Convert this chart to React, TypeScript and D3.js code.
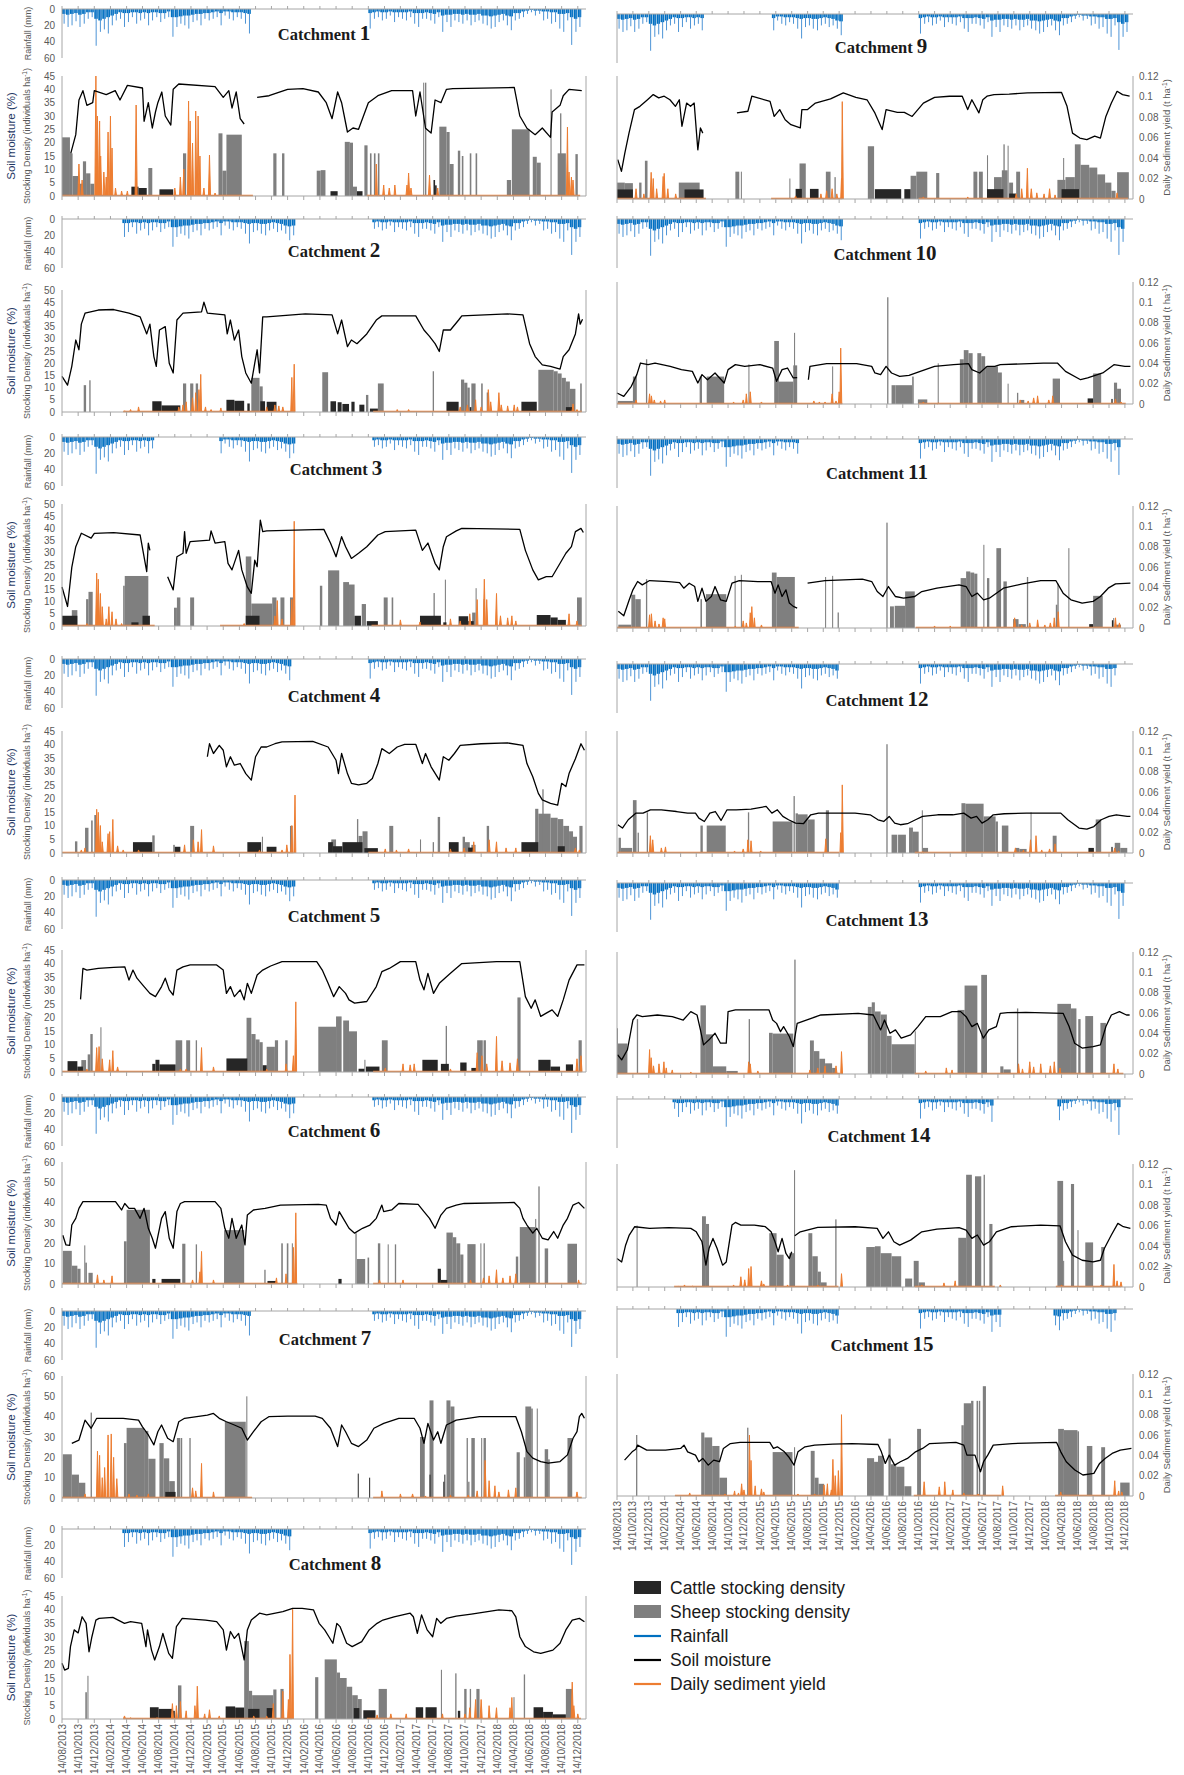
import React from "react";
import * as d3 from "d3";

type Pt = [number, number | null];
type Bar = [number, number, number];
type Spike = [number, number];
type Win = [number, number];

// time axis: values are given as months after 14/08/2013
const T0 = new Date(2013, 7, 14);
const T1 = new Date(2019, 0, 14);
const monthDate = (m: number) => d3.timeDay.offset(T0, Math.round(m * 30.44));
const tickMonths = d3.range(0, 65, 2);
const fmtDate = d3.timeFormat("%d/%m/%Y");

const rainTicks = [0, 20, 40, 60];
const sedTicks = [0, 0.02, 0.04, 0.06, 0.08, 0.1, 0.12];

// rainfall (mm), half-month bins: highest daily value and typical daily depth
const rainPeak = [
  18, 22, 20, 15, 22, 18, 12, 10, 45, 28, 25, 30, 20, 14, 12, 22, 16, 10, 18, 14,
  12, 20, 14, 10, 16, 12, 10, 34, 22, 18, 20, 24, 16, 14, 20, 12, 14, 12, 10, 20,
  8, 12, 14, 10, 12, 18, 30, 16, 14, 18, 20, 14, 12, 16, 14, 18, 26, 20, 10, 0,
  0, 0, 0, 0, 0, 0, 0, 0, 0, 0, 0, 0, 0, 0, 0, 0,
  24, 12, 10, 14, 12, 8, 16, 10, 12, 14, 10, 18, 22, 12, 12, 14, 18, 10, 28, 16,
  22, 14, 16, 18, 14, 20, 16, 14, 18, 20, 24, 22, 16, 14, 20, 26, 14, 12, 10, 6,
  4, 8, 6, 14, 12, 18, 16, 24, 28, 14, 44, 28, 22, 18,
];
const rainBase = [
  6, 7, 6, 5, 7, 6, 4, 4, 12, 14, 12, 10, 8, 6, 4, 5, 5, 4, 4, 5,
  4, 5, 4, 4, 5, 5, 3, 10, 10, 9, 8, 8, 7, 6, 6, 5, 5, 4, 3, 5,
  3, 3, 4, 4, 4, 5, 6, 5, 5, 6, 6, 5, 4, 5, 6, 8, 9, 8, 3, 0,
  0, 0, 0, 0, 0, 0, 0, 0, 0, 0, 0, 0, 0, 0, 0, 0,
  5, 4, 3, 4, 4, 3, 4, 4, 4, 4, 3, 5, 5, 5, 4, 5, 6, 4, 8, 7,
  7, 6, 6, 7, 6, 7, 7, 6, 8, 8, 9, 8, 7, 6, 8, 9, 5, 5, 3, 2,
  1, 2, 2, 3, 3, 4, 4, 6, 6, 5, 10, 12, 10, 8,
];

// periods with records (months)
const rw1: Win[] = [[0, 23.7], [37.8, 64.3]];
const rw2: Win[] = [[7.6, 28.9], [38.6, 64.5]];
const rw3: Win[] = [[0, 11.5], [19.6, 28.9], [38.4, 64.5]];
const rw4: Win[] = [[0, 28.7], [38, 64.3]];
const rw5: Win[] = [[0, 29], [38.6, 64.5]];
const rw6: Win[] = [[0, 29.2], [38.6, 64.5]];
const rw7: Win[] = [[0, 23.6], [38.6, 64.5]];
const rw8: Win[] = [[7.6, 28.5], [37.8, 64.4]];
const rw9: Win[] = [[0, 11.2], [19.4, 28.4], [38, 64.4]];
const rw10: Win[] = [[0, 28.4], [38, 64.1]];
const rw11: Win[] = [[0, 22.9], [37.6, 63.3]];
const rw12: Win[] = [[0, 28], [37.5, 63]];
const rw13: Win[] = [[0, 28.1], [37.5, 63.8]];
const rw14: Win[] = [[7.2, 27.9], [37.5, 47.6], [55.3, 63.5]];
const rw15: Win[] = [[7.3, 28], [37.4, 48.4], [55.2, 63]];

// soil moisture [month, %]
const sm1: Pt[] = [[1.1,16],[1.7,23],[2.1,36],[2.6,39.5],[3.1,34],[3.8,35],[4.0,39.5],[5.5,38],[6.6,39.5],[7.2,36],[8.1,41.5],[10.0,40.5],[10.2,28],[10.7,35],[11.2,25.5],[11.6,31.5],[11.9,35],[12.4,39],[12.8,30],[13.5,26.6],[13.8,40],[14.5,42],[19.0,41],[20.0,37],[20.7,39.5],[21.1,33],[21.6,39],[22.1,29],[22.6,27],[23.4,null],[24.2,37],[25.7,37.6],[28.0,40],[29.9,40.3],[31.8,39],[32.8,35],[33.5,29],[34.2,39],[34.7,35],[35.4,24],[36.1,25.5],[36.8,25],[38.0,35],[39.2,37.6],[40.9,39.5],[43.5,39.5],[43.9,30],[44.4,39],[45.1,25.4],[45.8,23.6],[46.3,36],[47.0,35],[47.7,40],[48.5,40.3],[56.1,40.7],[56.8,30],[57.7,25.4],[58.7,23],[59.6,25.5],[60.6,22],[60.8,31.5],[61.8,34],[62.2,37.6],[62.9,40],[64.5,39.5]];
const sm2: Pt[] = [[0,14.6],[0.7,11],[1.2,18.7],[1.7,29.5],[2.1,25.5],[2.4,36],[2.85,40.5],[4.5,41.8],[6.4,42],[8.3,40.5],[9.7,39],[10.5,32],[10.9,36],[11.4,22.7],[11.7,18.7],[12.1,33.6],[12.8,35],[13.3,20],[13.8,16],[14.25,37.7],[15.0,40.5],[17.3,41],[17.6,45],[18.05,40.5],[20.2,39.8],[20.5,32],[20.9,37.7],[21.4,29.5],[21.9,33.6],[22.3,22.7],[22.8,16],[23.5,11.8],[23.9,20],[24.2,25.5],[24.5,16],[24.9,39],[25.4,39],[30.2,40.2],[33.5,39.8],[34.2,32],[34.7,37.7],[35.4,26.8],[35.9,29.5],[36.6,28],[37.8,32],[39.0,37.7],[39.7,39.4],[43.9,39.4],[44.9,33.6],[45.6,31],[46.3,28],[46.8,24.8],[47.3,33.6],[48.2,33.6],[49.2,37.7],[49.6,39.4],[55.3,40.2],[57.2,39.8],[58.0,28],[58.7,22.7],[59.6,19.3],[60.6,18.7],[61.8,17.6],[62.2,22.7],[62.9,25.5],[63.7,32],[64.1,40.2],[64.3,36],[64.6,38]];
const sm3: Pt[] = [[0,16],[0.7,8],[1.2,24],[1.7,32.5],[2.4,38],[3.6,36],[4.0,38],[6.4,38.3],[9.7,37.3],[10.5,22.3],[10.7,34],[10.9,31],[11.0,null],[13.1,20.2],[13.8,14.8],[14.25,28.4],[15.0,29.8],[15.2,38.7],[15.4,29.8],[15.9,34.6],[18.3,35.2],[18.5,39],[19.0,34],[20.2,34.6],[20.6,25.7],[21.1,23],[21.9,31],[22.3,23],[23.0,16],[23.5,13.4],[23.9,27],[24.2,24.3],[24.6,43.4],[24.9,38.7],[25.4,39],[32.5,39.6],[33.3,34],[34.0,28.4],[34.7,36.6],[35.2,32.5],[35.9,27.7],[36.8,29.8],[37.8,32.5],[39.2,37.3],[40.1,38.7],[43.9,39.3],[44.7,31],[45.4,34],[46.3,25.7],[46.8,23],[47.3,32.5],[47.7,36.6],[48.9,39],[49.6,40],[56.8,39.6],[57.5,31],[58.4,23],[59.1,18.9],[60.1,20.2],[60.8,20.2],[61.8,25.7],[62.5,29.8],[63.2,32.5],[63.7,38.7],[64.4,40],[64.7,38.3]];
const sm4: Pt[] = [[18.05,35.5],[18.3,40.3],[18.8,36.7],[19.5,39.7],[20.0,37.9],[20.4,31.8],[20.9,35.5],[21.4,32.4],[22.1,33],[22.8,29.3],[23.5,26.9],[24.0,35.5],[24.7,39.1],[25.4,39.1],[26.4,40.3],[27.3,41],[31.1,41.2],[33.0,39.1],[34.0,34.2],[34.3,29.3],[34.7,36.7],[35.4,29.3],[35.9,25.7],[36.8,25.1],[37.8,25.7],[38.5,27.5],[39.2,33],[39.7,38.5],[40.6,36.7],[41.6,39.1],[42.5,40.1],[43.9,40.1],[44.7,33],[45.1,36.7],[45.8,31.8],[46.8,26.9],[47.3,35.5],[48.0,34.2],[48.7,36.7],[49.4,39.7],[52.0,40.3],[55.3,40.6],[57.2,39.7],[57.7,33],[58.4,28.1],[59.1,22],[59.6,19.6],[60.6,18.3],[61.5,17.7],[62.0,25.7],[62.5,24.5],[62.9,29.3],[63.7,34.8],[64.4,40.3],[64.8,37.9]];
const sm5: Pt[] = [[2.3,26.8],[2.6,38.2],[3.1,37.6],[4.5,38.2],[6.4,38.6],[7.8,38.8],[8.3,33.9],[8.8,37.6],[9.3,34.6],[10.2,31.5],[10.9,29],[11.6,27.8],[12.35,31.5],[12.8,34.6],[13.3,30.3],[13.8,28.4],[14.25,37.6],[15.0,38.8],[15.9,39.5],[19.2,39.5],[20.0,37.6],[20.4,29],[20.9,31.5],[21.4,27.8],[22.1,30.3],[22.6,26.6],[23.0,32.7],[23.5,29],[24.2,35.8],[24.9,37.6],[25.9,39.1],[27.3,40.7],[31.6,40.7],[32.3,37.6],[33.0,32.7],[33.7,27.8],[34.4,31.5],[35.2,29],[35.6,26.6],[36.3,25.4],[37.8,26],[39.0,31.5],[39.7,37],[40.6,38.2],[42.0,40.7],[43.9,40.7],[44.4,33.9],[44.9,30.3],[45.4,36.4],[46.1,29],[46.8,32.7],[47.5,34.6],[48.2,36.4],[49.6,40],[53.9,40.7],[56.8,40.7],[57.5,27.8],[58.2,23.5],[58.7,26.6],[59.4,20.5],[60.1,21.7],[60.8,22.9],[61.5,20.5],[62.2,26.6],[62.9,33.9],[63.9,39.5],[64.8,39.5]];
const sm6: Pt[] = [[0.1,24],[0.5,19.2],[0.95,19],[1.2,29],[1.7,32.3],[2.1,37.2],[2.6,40.5],[4.3,40.5],[6.65,40.5],[7.4,36.4],[7.8,39.6],[8.3,37.2],[9.0,37.2],[9.7,32.3],[10.2,37.2],[10.7,27.4],[11.2,22.5],[11.6,17.6],[12.35,32.3],[12.8,35.6],[13.3,22.5],[13.8,17.6],[14.25,35.6],[14.7,39.6],[15.2,40.5],[19.0,40.5],[19.7,37.2],[20.2,27.4],[20.7,22.5],[21.1,32.3],[21.6,22.5],[22.3,29],[22.7,19.2],[23.0,33.9],[23.75,36.4],[25.2,37.2],[27.1,38.8],[31.8,39.2],[32.8,38.8],[33.3,32.3],[34.0,29],[34.4,35.6],[34.9,32.3],[35.6,27.4],[36.3,25],[37.3,27.4],[38.2,29],[39.0,32.3],[39.7,38.8],[39.9,35.6],[40.9,36.4],[41.8,39.6],[44.2,39.2],[44.9,35.6],[45.6,32.3],[46.3,27.4],[47.0,33.9],[47.7,37.2],[48.9,38.8],[49.9,39.6],[56.1,40.1],[56.8,37.2],[57.2,32.3],[57.7,29],[58.4,25],[58.9,27.4],[59.6,22.5],[60.3,21.7],[61.0,25.8],[61.5,22.5],[62.2,29],[62.7,32.3],[63.4,38.8],[64.1,40.1],[64.8,37.2]];
const sm7: Pt[] = [[1.2,26.9],[2.1,28.5],[2.85,38.3],[3.6,34.3],[4.3,39.2],[7.6,39.2],[9.5,38.3],[10.0,35],[10.7,31],[11.4,26.1],[11.9,32.6],[12.35,35.9],[13.1,29.4],[13.8,27.7],[14.5,37.5],[15.2,39.2],[18.05,40.8],[18.8,41.6],[19.5,39.2],[20.4,37.5],[21.4,35.9],[22.3,34.3],[23.0,28.5],[23.75,32.6],[24.7,37.5],[25.65,40],[28.0,40.3],[31.4,40.3],[32.3,39.2],[33.3,34.3],[34.2,25.3],[34.7,35.9],[35.2,32.6],[35.9,26.9],[36.8,25.3],[37.8,28.5],[38.7,34.3],[39.9,36.7],[41.8,39.2],[43.7,39.2],[44.4,34.3],[44.9,26.9],[45.4,36.7],[46.1,28.5],[46.6,32.6],[47.0,26.9],[47.7,35.9],[48.9,38.3],[51.8,40],[56.3,40],[57.0,32.6],[57.7,22.8],[58.4,19.6],[59.4,17.9],[60.3,17.1],[61.8,17.9],[62.7,21.2],[63.4,29.4],[63.9,32.6],[64.2,40],[64.5,41.6],[64.8,39.2]];
const sm8: Pt[] = [[0,20.4],[0.33,17.9],[0.8,18.5],[1.05,26.5],[1.5,32.6],[2.0,31.5],[2.5,37.4],[3.0,35],[3.35,24.6],[3.7,30.1],[4.2,36.2],[4.6,36.8],[6.3,37.2],[7.75,35],[8.5,35.6],[9.9,35],[10.4,26.5],[10.6,32.6],[11.1,25.2],[11.5,21.6],[12.1,26.5],[12.5,31.3],[13.25,24],[13.7,22.2],[14.2,33.8],[14.9,36.8],[17.8,36.2],[19.2,35.6],[20.0,32.6],[20.4,25.2],[20.9,32],[21.4,29.5],[21.9,31.3],[22.6,21.6],[23.0,32.6],[23.5,36.2],[24.5,38.7],[25.4,38.1],[27.4,39.3],[28.6,40.5],[29.8,40.5],[31.2,39.9],[31.9,35],[32.6,32.6],[33.1,30.1],[33.6,27.7],[34.1,35],[34.5,33.8],[35.3,27.7],[36.0,26.5],[37.2,28.3],[38.1,32.6],[39.1,35],[39.8,36.2],[41.2,37.4],[43.2,38.7],[43.6,37.4],[44.1,31.3],[44.6,38.1],[45.3,32.6],[46.0,30.1],[46.5,36.8],[47.0,35],[47.7,36.8],[48.9,37.6],[50.8,38.4],[54.2,39.9],[55.8,39.6],[56.3,37.4],[56.8,30.1],[57.5,26.5],[58.5,24.6],[59.4,24],[60.9,25.2],[61.8,27.7],[62.5,32.6],[63.3,36.2],[64.2,36.8],[64.8,35.6]];
const sm9: Pt[] = [[0.1,14.4],[0.56,10.1],[1.0,16.8],[1.5,24.1],[2.2,32.7],[2.9,33.9],[3.85,36.3],[4.55,38.2],[5.26,37],[5.96,37.6],[6.67,36.3],[7.37,33.9],[7.84,36.3],[8.17,26.6],[8.78,35.1],[9.25,33.9],[9.72,35.1],[10.2,18],[10.5,26],[10.8,24.1],[11.0,null],[15.1,31.5],[16.5,32.1],[17.0,37.6],[19.3,35.7],[19.8,30.2],[20.5,32.7],[21.2,29],[21.9,27.2],[23.1,26],[23.3,32.7],[24.0,32.7],[25.0,35.1],[26.9,36.6],[28.5,38.8],[30.1,37.2],[31.5,36.3],[32.5,31.5],[33.4,25.4],[33.9,32.7],[35.3,31.7],[36.2,31.7],[37.2,30.2],[38.6,35.1],[40.0,37.2],[41.9,37.6],[43.5,37.6],[44.2,32.7],[44.7,36.3],[45.6,31.5],[46.1,36.3],[46.6,37.6],[47.5,38.2],[49.4,38.4],[51.7,38.8],[56.0,39],[56.7,33.9],[57.4,24.1],[58.3,22.3],[59.2,21.7],[60.2,23],[60.9,22.3],[61.6,30.2],[62.3,35.1],[63.0,39.4],[63.7,38.2],[64.6,37.6]];
const sm10: Pt[] = [[0,10.8],[0.85,7.5],[1.8,17.4],[2.5,28.9],[2.95,40.3],[3.9,38.7],[4.8,40.3],[6.7,37],[8.1,33.8],[9.5,32.1],[10.2,20.7],[10.7,28.9],[11.4,23.9],[12.35,30.5],[13.5,20.7],[14.0,33.8],[14.9,38.7],[16.1,37],[18.0,38.7],[19.6,35.4],[20.1,22.3],[20.8,33.8],[21.5,35.4],[22.2,25.6],[22.7,26],[23.0,null],[24.1,23.9],[24.3,37],[26.4,39.7],[30.2,39.7],[32.1,37],[32.5,30.5],[33.2,28.9],[33.9,37],[34.6,30.5],[35.6,27.2],[36.8,28.2],[38.2,32.1],[40.0,37],[42.4,38.7],[44.3,39.7],[44.7,33.8],[45.7,30.5],[46.6,37],[47.6,37],[48.3,38.7],[53.7,40.3],[55.5,40.3],[56.5,32.1],[58.4,23.9],[59.3,25.6],[61.2,30.5],[62.6,38.7],[64.0,37],[64.7,37]];
const sm11: Pt[] = [[0.15,15],[0.85,11],[1.55,25.4],[2.0,34.4],[2.6,41.9],[3.2,38.9],[4.1,42.8],[6.5,41.9],[7.9,41],[8.4,35.9],[9.1,40.4],[9.8,37.4],[10.2,24],[10.7,35.9],[11.2,24],[11.9,28.4],[12.35,37.4],[13.05,25.4],[13.75,24],[14.5,40.4],[15.4,42.8],[17.75,41.9],[19.4,41.9],[19.9,31.4],[20.3,38.9],[20.8,28.4],[21.3,34.4],[21.7,22.5],[22.2,19.5],[22.7,18],[23.0,null],[24.0,40.4],[26.2,42.8],[30.9,44],[32.1,41.9],[32.8,32.9],[33.5,28.4],[34.2,37.4],[35.1,28.4],[36.1,26.9],[37.5,28.4],[38.4,32.9],[40.3,35.9],[43.1,38.9],[44.0,37.4],[44.7,28.4],[45.4,31.4],[46.2,25.4],[46.9,26.9],[47.8,31.4],[48.7,35.9],[51.1,39.8],[53.4,42.8],[55.3,42.8],[56.2,31.4],[57.2,25.4],[58.6,22.5],[60.0,24],[60.9,28.4],[61.9,35.9],[62.8,39.8],[64.7,40.4]];
const sm12: Pt[] = [[0.1,27.8],[0.7,24.5],[1.4,32.7],[2.35,39.2],[3.3,39.2],[4.2,42.5],[5.6,42.5],[7.5,40.8],[8.9,39.2],[9.9,39.2],[10.3,34.3],[11.0,31],[11.7,39.2],[12.4,40.8],[13.1,32],[13.85,42.5],[15.0,42.5],[16.9,43.1],[18.8,45.8],[19.5,39.2],[20.2,42.5],[20.9,36],[21.6,32.7],[22.5,29.4],[23.5,28.8],[24.4,37.6],[25.4,39.2],[27.2,39.2],[30.0,39.2],[31.9,37.6],[32.9,32.7],[33.6,31],[34.3,36],[35.0,29.4],[35.7,27.8],[36.6,28.8],[37.6,32.7],[38.5,36],[40.4,37.6],[42.3,37.6],[43.7,39.2],[44.6,34.3],[45.3,36],[46.0,29.4],[46.7,32.7],[47.4,37.6],[48.8,38.6],[51.6,39.2],[55.9,39.2],[56.8,32.7],[58.2,24.5],[59.2,23.5],[60.1,26],[61.0,32.7],[62.0,36],[62.9,37.6],[64.3,36],[64.7,36]];
const sm13: Pt[] = [[0.05,12.6],[0.6,9.3],[1.3,15.9],[2.0,35.4],[2.5,38.7],[3.2,37.6],[5.1,38.7],[6.95,37.6],[8.35,35.4],[9.3,40.9],[10.1,38.7],[10.5,28.9],[10.9,19.1],[11.6,22.4],[12.35,26.7],[13.05,20.2],[13.75,20.2],[14.0,40.9],[14.9,42],[19.15,42],[19.6,35.4],[20.1,33.2],[20.6,27.8],[21.0,31.1],[21.7,24.6],[22.2,18],[22.7,33.2],[23.85,35.4],[25.7,38.7],[30.4,39.8],[32.3,38.7],[33.2,28.9],[33.7,35.4],[34.4,26.7],[35.1,28.9],[35.8,23.5],[37.0,25.7],[37.9,31.1],[38.9,37.6],[40.75,37.6],[42.2,40.9],[43.3,40.9],[44.0,37.6],[44.7,31.1],[45.4,33.2],[46.15,23.5],[46.85,28.9],[47.8,31.1],[48.3,39.8],[49.2,40.2],[51.5,40.4],[56.2,39.8],[56.95,31.1],[57.65,20.2],[58.6,17],[60.0,18],[60.9,19.1],[61.6,31.1],[62.3,38.7],[63.3,40.9],[64.2,38.7],[64.6,38.7]];
const sm14: Pt[] = [[0,18.5],[0.6,16.3],[1.1,27.2],[1.55,33.8],[2.25,39.2],[4.1,38.1],[6.5,38.6],[9.3,38.1],[10.0,35.9],[10.7,29.4],[11.2,14.2],[11.6,25],[12.1,31.6],[12.6,25],[13.3,14.2],[13.75,16.3],[14.5,40.3],[14.9,42],[15.6,40.3],[17.3,40.3],[18.7,39.2],[19.4,35.9],[19.9,29.4],[20.3,22.9],[20.8,31.6],[21.3,21.8],[21.7,18.5],[22.0,22.9],[22.2,null],[22.4,33.3],[23.1,35.9],[25.3,38.8],[30.0,39.2],[32.8,38.1],[33.5,31.6],[34.2,35.9],[34.9,29.4],[35.6,27.2],[37.0,30.5],[38.4,35.9],[40.3,37.7],[43.1,38.6],[44.0,37],[44.7,31.6],[45.4,33.8],[46.2,27.2],[46.9,29.4],[47.8,35.9],[49.7,39.2],[53.4,40.3],[55.8,39.8],[56.5,29.4],[57.4,20.7],[58.6,17.4],[60.0,16.3],[60.9,17.4],[61.4,25],[62.3,33.8],[63.1,41.4],[63.8,39.2],[64.7,38.1]];
const sm15: Pt[] = [[0.95,29.4],[1.9,36.2],[2.35,38.4],[2.6,41.7],[3.75,37.6],[6.1,37.6],[8.0,39],[8.45,41.7],[8.9,36.2],[9.9,33.5],[10.3,28.1],[10.8,30.8],[11.5,25.3],[12.2,29.4],[12.9,28.1],[13.4,39],[14.3,43],[15.5,43.9],[19.25,43.9],[19.7,39],[20.2,40.3],[21.1,36.2],[21.6,32.2],[22.3,25.3],[22.8,36.2],[23.7,40.3],[24.9,41.7],[27.2,42.5],[29.6,43],[32.9,42.2],[33.3,36.2],[33.8,26.7],[34.3,33.5],[35.0,25.3],[35.7,28.1],[36.6,30.8],[37.6,36.2],[38.5,39],[39.4,43],[42.7,43.9],[43.7,41.7],[44.1,33.5],[45.1,33.5],[45.8,19.9],[46.2,28.1],[46.7,33.5],[47.4,41.7],[49.8,43],[55.4,43.9],[55.9,36.2],[56.6,28.1],[57.7,21.3],[58.7,17.2],[60.1,18.5],[60.8,26.7],[61.5,30.8],[62.4,34.9],[63.4,37.6],[64.8,39]];

// sheep stocking density [from month, to month, individuals/ha]
const sheep1: Bar[] = [[0,1,22],[1,1.3,16],[1.3,2.0,7.5],[2.0,2.6,4.6],[2.6,3.0,13],[3.0,3.5,8.5],[3.5,4.0,4.6],[10.7,11.2,10.5],[15.0,15.4,16],[19.4,19.9,23.5],[19.9,20.4,9.5],[20.4,22.3,23],[26.2,26.6,16],[27.3,27.6,16],[31.6,32.1,9.5],[32.1,32.7,9.7],[35.1,35.7,20.3],[35.7,36.1,20],[36.1,36.6,3.5],[37.5,37.9,19],[38.2,38.4,16],[38.7,38.9,16],[39.2,39.4,16],[44.8,44.95,42.5],[45.05,45.2,42.5],[46.8,47.7,26],[47.7,48.1,24],[48.1,48.6,12],[49.1,49.4,17],[49.6,49.8,15],[50.6,50.8,16],[51.3,51.5,16],[55.2,55.7,6],[55.8,58.0,25],[58.4,58.9,14.7],[58.9,59.4,12.5],[60.6,60.75,40],[61.5,62.5,16],[61.8,61.95,31],[63.7,64.0,15.7]];
const sheep2: Bar[] = [[2.7,3.0,11],[3.4,3.55,13],[15.0,15.4,11.7],[15.9,16.3,11.7],[16.6,16.9,11.7],[23.5,24.5,14],[24.5,24.9,10.5],[32.3,33.0,16.3],[37.7,38.0,7],[39.2,39.9,11.7],[46.0,46.15,16.7],[49.5,49.9,13.3],[49.9,50.3,12],[50.3,50.6,10],[50.8,51.3,11.7],[52.0,52.2,11.7],[52.7,53.0,8],[59.1,61.0,17.3],[61.0,61.5,16.7],[61.5,62.0,15.8],[62.0,62.5,14],[62.5,63.0,12.5],[63.0,63.7,9.5],[64.3,64.5,11.7]];
const sheep3: Bar[] = [[1.2,1.9,6.5],[3.0,3.3,11],[3.3,3.8,14],[7.6,7.8,16.5],[7.8,10.7,20.5],[13.9,14.25,7.5],[14.25,14.7,11.7],[15.9,16.4,11.7],[22.8,23.5,28.5],[23.5,26.1,9.2],[26.1,26.6,11.7],[27.1,27.6,11.7],[28.3,28.7,11.7],[32.0,32.3,16.5],[33.0,34.4,22.8],[34.9,35.6,18],[35.6,36.3,17],[37.2,37.7,9],[39.9,40.4,11.7],[40.9,41.1,11.7],[46.1,46.25,13.5],[47.5,47.65,19],[50.9,51.3,5.5],[51.3,51.45,15.5],[52.3,52.45,11],[63.9,64.5,11.7]];
const sheep4: Bar[] = [[1.6,1.9,4.3],[2.85,3.3,9.3],[3.6,3.8,12],[4.0,4.3,14],[11.2,11.5,6.5],[13.8,14.0,3],[15.9,16.4,10],[24.8,24.95,6],[28.3,28.6,10],[33.4,34.0,5],[36.6,36.75,12.5],[36.8,37.3,6.3],[37.3,37.9,8],[40.6,41.1,10],[44.4,44.55,5],[46.0,46.15,4],[46.6,46.9,13.3],[49.7,50.0,6],[50.0,50.6,4],[50.8,51.3,3],[52.7,53.0,10],[58.7,59.1,16.3],[59.1,60.6,14.5],[59.6,59.75,23.5],[60.6,61.5,13],[61.5,62.2,12.5],[62.2,62.9,10],[62.9,63.4,8],[63.4,63.9,6],[64.2,64.6,10]];
const sheep5: Bar[] = [[2.4,3.0,4.4],[3.2,3.5,6.5],[3.5,3.8,14],[4.75,4.9,16.5],[14.1,14.9,11.7],[15.4,15.9,11.7],[16.6,16.75,11.7],[22.9,23.5,20],[23.5,24.0,14],[24.0,24.5,12],[24.5,24.9,11],[25.4,26.4,9.3],[26.4,26.8,11.7],[27.7,28.0,11.7],[31.8,34.0,16.7],[34.0,34.7,20.5],[34.9,35.6,19],[35.6,36.6,15],[37.5,37.65,4.5],[39.7,40.4,11.7],[47.6,47.75,17],[51.5,52.2,11.7],[52.3,52.6,11.7],[56.5,56.9,27.5],[64.1,64.5,11.7]];
const sheep6: Bar[] = [[0.1,1.2,16.3],[1.2,1.9,9],[1.9,2.3,7.5],[2.75,2.9,19],[2.9,3.1,10.5],[3.3,3.8,5.5],[7.7,8.0,21],[8.0,10.9,36.5],[14.9,15.3,19.8],[16.6,16.75,19.5],[20.1,22.6,26.5],[25.1,25.25,7],[27.2,27.4,20],[27.9,28.1,20],[28.5,28.65,20],[36.4,36.55,25],[36.6,37.6,12.3],[37.9,38.1,13],[39.2,39.5,20],[40.4,40.55,19.5],[41.3,41.45,19.5],[47.7,48.5,25.3],[48.5,48.9,23],[48.9,49.4,20],[49.4,49.8,14.5],[50.3,51.3,19.6],[51.9,52.05,20],[52.3,52.45,20],[56.3,56.6,13.5],[56.8,58.7,28],[58.7,58.85,32],[59.1,59.25,48],[59.9,60.3,17.5],[62.7,63.9,19.8]];
const sheep7: Bar[] = [[0.1,1.2,21.5],[1.2,2.1,11.5],[2.1,2.9,7.5],[3.55,3.7,42],[7.7,8.0,27],[8.0,10.2,34.5],[10.2,10.7,33],[10.7,11.6,19.3],[12.1,12.6,27],[12.6,13.3,19.5],[13.3,14.0,8.3],[14.25,14.7,29.5],[14.75,14.9,29.5],[15.8,15.95,29.5],[20.2,22.8,37.5],[22.85,23.0,50],[44.4,45.0,30],[45.6,46.1,48],[47.7,48.2,48],[48.2,48.7,45],[50.2,50.35,29.5],[50.4,50.55,8],[50.8,51.2,29.5],[52.0,52.15,29.5],[52.3,52.6,29.5],[56.4,56.8,22.5],[57.3,57.5,20],[57.5,58.2,45],[58.2,58.4,44],[58.9,59.05,44],[59.9,60.3,24],[60.3,60.5,19],[62.7,63.3,29.5]];
const sheep8: Bar[] = [[2.9,3.1,9.8],[3.15,3.3,15.8],[14.4,14.8,12.3],[22.6,23.2,28.5],[23.2,23.6,10.3],[23.6,26.2,8.7],[26.2,26.6,10.8],[27.1,27.5,11],[31.4,31.8,15.3],[32.6,34.1,21.8],[34.1,34.5,17],[34.5,35.3,15],[35.3,36.0,11.8],[36.0,36.7,8.7],[36.7,37.2,7.3],[39.3,40.3,11],[47.0,47.15,18],[48.8,48.95,16.7],[49.9,50.2,11],[50.6,50.75,11],[51.4,51.8,11],[56.0,56.15,8],[57.3,57.45,16.3],[62.5,63.3,11]];
const sheep9: Bar[] = [[0,1.0,6],[1.0,2.0,5.8],[2.8,3.1,6],[3.5,3.85,14],[7.8,10.4,6],[14.9,15.4,10],[15.6,15.75,10],[21.7,21.85,7.5],[23.0,23.8,13],[26.3,26.9,10],[27.4,27.55,8],[31.6,32.4,19.3],[37.0,37.7,8.5],[37.7,39.1,10],[40.2,40.6,9.5],[44.9,45.4,10],[45.6,46.1,10],[46.6,46.75,16],[47.5,48.5,8],[48.5,49.2,10.5],[48.7,48.85,20],[49.2,49.35,19.5],[49.4,49.9,6],[50.3,50.8,10],[55.5,56.5,7],[56.2,56.35,15],[56.5,57.7,8],[57.7,58.4,20],[58.4,59.5,12.5],[59.5,60.5,11.5],[60.5,61.5,9],[61.5,62.3,6],[62.3,62.8,3],[63.0,64.5,9.8]];
const sheep10: Bar[] = [[0.1,2.0,3],[2.0,2.5,27],[3.65,3.8,44],[10.4,10.7,27],[11.3,13.5,27],[16.55,16.7,39],[19.8,20.4,62],[20.4,22.2,22],[22.2,22.7,38],[22.3,22.45,70],[27.1,27.25,37],[34.05,34.2,105],[34.6,35.1,18.5],[35.1,37.2,18.5],[37.2,37.4,27],[37.9,39.1,4.5],[40.4,40.55,40],[43.2,43.7,44],[43.7,44.3,53],[44.3,44.8,50],[45.4,45.9,50],[45.9,46.4,47],[46.4,48.0,37],[48.0,48.5,31],[49.2,49.35,20],[50.4,50.55,11],[50.8,51.3,4],[54.9,55.8,25],[60.0,61.0,30],[62.6,63.0,21],[63.0,63.5,15]];
const sheep11: Bar[] = [[0.15,1.8,3],[1.8,2.3,30],[2.3,3.0,26],[3.65,3.8,44],[10.5,10.7,26],[11.2,13.75,30.5],[14.8,14.95,47],[15.6,15.75,48],[19.5,20.1,50],[20.1,22.4,46],[26.2,26.35,46],[27.1,27.25,47],[27.8,27.95,14],[33.95,34.1,95],[34.4,34.9,19.5],[35.0,36.3,20],[36.3,37.5,33],[43.3,44.0,45],[44.0,44.5,51],[44.5,45.0,50],[45.0,45.4,49],[46.15,46.3,75],[46.6,46.9,45],[47.8,48.4,72],[48.7,49.1,42],[49.9,50.6,8],[50.6,51.5,3.5],[51.65,51.8,46],[55.3,55.5,21],[55.5,55.65,40],[56.85,57.0,72],[60.0,61.2,29],[62.5,62.65,9],[62.8,63.5,3]];
const sheep12: Bar[] = [[0.2,0.5,15],[0.5,1.9,5],[2.0,2.45,52],[2.6,2.75,20],[3.75,3.9,40],[10.5,10.8,27],[11.3,13.7,27],[16.5,16.65,40],[19.6,22.1,31],[22.25,22.4,56],[22.5,22.8,39],[22.8,24.0,38],[24.0,24.9,33],[26.3,26.7,42],[28.2,28.35,12],[33.95,34.1,107],[34.6,35.3,18],[35.4,36.4,18],[36.8,37.3,25],[37.3,38.0,21],[38.4,38.55,42],[38.5,39.2,5],[43.4,43.9,49],[43.9,46.2,48.5],[46.2,47.7,36],[47.7,48.0,31],[48.5,49.3,27],[50.2,50.7,5],[50.7,51.6,4],[52.1,52.25,40],[54.9,55.4,17],[60.3,61.0,33],[62.7,63.4,10],[63.4,64.3,5]];
const sheep13: Bar[] = [[0,0.1,30],[0.1,1.3,20],[2.5,2.65,36],[10.5,11.2,45],[11.2,12.1,26],[12.1,13.75,5],[13.75,15.2,2],[16.6,16.75,36],[19.15,19.6,27],[19.6,22.2,26.5],[22.35,22.5,75],[24.3,24.8,22],[24.8,25.5,15],[25.5,26.2,10],[26.2,27.1,7],[27.1,27.6,4],[31.6,32.1,44],[32.1,32.5,47],[32.5,33.2,41],[33.2,34.0,39],[34.0,34.6,25],[34.6,37.5,19.5],[37.5,37.65,28],[42.9,43.8,42],[43.8,45.4,58],[45.9,46.6,65],[48.3,48.7,5],[48.7,49.6,3],[50.4,50.55,43],[55.5,57.2,46],[57.2,57.9,43],[58.1,58.4,36],[59.0,60.0,38],[60.9,61.6,33.5]];
const sheep14: Bar[] = [[2.45,2.6,40],[10.7,11.2,46],[11.2,11.6,41],[19.2,20.1,35],[20.1,21.0,21],[21.7,22.4,22],[22.3,22.45,76],[24.1,24.6,35],[24.6,25.3,20],[25.3,25.7,10],[25.7,26.4,3],[27.5,27.65,44],[31.4,32.5,26],[32.5,33.2,26.5],[33.2,34.6,22],[34.6,35.8,20],[36.3,37.2,5.5],[37.4,38.0,17],[38.0,38.8,3],[43.0,44.0,32],[44.0,44.7,73],[45.1,45.9,72],[46.2,46.35,73],[46.9,47.3,41],[55.5,56.2,69],[56.2,56.35,17],[57.2,57.6,67],[58.0,58.15,37],[59.0,60.0,29],[61.0,61.4,26]];
const sheep15: Bar[] = [[2.4,2.55,50],[10.6,11.0,52],[11.0,12.0,48],[12.0,12.9,41],[12.9,13.85,15],[16.4,16.55,56],[19.6,22.1,36],[22.3,22.45,40],[24.4,24.9,37],[24.9,25.4,15],[25.4,26.1,10],[31.5,32.4,31],[32.4,32.9,28],[32.9,33.6,33],[34.2,34.5,47],[34.5,35.2,26],[35.2,36.2,24],[36.2,37.1,8],[37.8,38.3,55],[43.4,43.7,58],[43.7,44.6,76],[44.6,44.9,78],[45.3,45.5,78],[45.6,45.75,78],[46.1,46.5,90],[55.6,56.3,55],[56.3,58.0,54],[58.0,58.2,53],[59.2,59.9,41],[61.0,61.5,40],[63.4,64.6,11]];

// cattle stocking density [from month, to month, individuals/ha]
const cattle1: Bar[] = [[8.6,9.5,3.5],[9.5,10.5,3],[12.1,13.8,2.5],[33.3,34.2,1.8],[36.6,37.3,1.8],[46.1,46.3,6],[46.3,46.5,4]];
const cattle2: Bar[] = [[11.2,12.35,4.4],[12.35,14.7,2.7],[20.4,21.4,5],[21.4,22.6,4.6],[23.0,23.3,3.5],[24.6,25.2,4.4],[25.4,26.6,4.2],[33.3,34.0,4.4],[34.2,34.7,4],[34.8,35.6,3.3],[35.9,36.3,4.2],[36.9,37.5,3],[38.2,39.2,1.4],[47.7,49.2,4.2],[50.6,50.8,2],[57.0,58.9,4.2],[62.5,63.4,2]];
const cattle3: Bar[] = [[0,1.9,4.2],[8.6,9.5,1.5],[10.0,10.9,4.2],[22.8,24.5,4.2],[36.3,37.1,4.2],[37.8,39.2,2],[44.4,47.0,4.2],[47.3,47.7,1.5],[49.2,50.4,4],[50.4,51.1,2],[58.9,60.6,4.5],[60.6,61.5,3.5],[61.5,62.5,2.5]];
const cattle4: Bar[] = [[8.8,11.2,4],[14.0,14.7,2.3],[23.0,24.7,4],[25.4,26.6,2.3],[33.0,33.6,4],[33.6,34.8,2.5],[34.8,37.3,4],[37.5,39.2,1.8],[48.0,49.2,4],[50.4,51.1,2],[57.0,59.1,4],[61.5,62.4,2.5]];
const cattle5: Bar[] = [[0.7,1.9,4],[1.9,2.6,2],[11.2,11.6,3],[11.6,12.1,4.5],[12.1,14.1,2.8],[20.4,23.0,5],[24.9,25.4,2.5],[36.8,37.5,1.2],[37.7,39.4,2],[44.7,46.6,4.5],[47.0,48.0,3],[49.4,50.2,3.5],[50.8,51.5,1.5],[59.1,60.6,4.5],[60.6,61.8,2],[62.5,63.4,2.8]];
const cattle6: Bar[] = [[11.2,11.6,2.5],[12.35,14.7,2.5],[25.5,26.6,1.5],[34.3,34.7,2.5],[46.6,47.0,7.5],[47.0,47.8,2]];
const cattle7: Bar[] = [[12.8,14.1,3],[36.7,36.8,12],[38.1,38.2,10],[45.6,45.7,11.5],[47.3,47.4,8],[47.45,47.55,11.5]];
const cattle8: Bar[] = [[10.9,12.0,4.3],[12.0,13.7,3.7],[13.7,14.0,3],[20.3,21.5,4.6],[21.5,22.6,4.2],[23.1,24.5,3.7],[25.4,26.2,4],[36.2,36.9,4],[37.4,38.9,3.2],[43.9,44.8,4.3],[45.1,46.5,4.3],[49.1,49.4,3],[58.5,59.7,4.3],[59.7,60.9,2.6],[60.9,62.5,1.7]];
const cattle9: Bar[] = [[0,2.0,3.5],[8.5,10.9,3.5],[22.5,23.3,3.7],[24.3,25.4,3.7],[32.5,35.8,3.6],[36.2,37.0,3.6],[46.6,48.7,3.6],[49.4,50.3,2],[56.0,58.2,3.6]];
const cattle10: Bar[] = [[59.3,60.0,5.5],[62.3,62.45,5]];
const cattle11: Bar[] = [[59.5,60.0,3.5],[62.35,62.5,7]];
const cattle12: Bar[] = [[59.4,60.1,5],[62.3,62.45,6]];
const cattle13: Bar[] = [];
const cattle14: Bar[] = [];
const cattle15: Bar[] = [];

// daily sediment yield peaks [month, t/ha]
const sed1: Spike[] = [[2.1,0.032],[2.5,0.016],[4.2,0.12],[4.4,0.08],[4.65,0.075],[4.8,0.04],[5.2,0.024],[5.5,0.019],[5.7,0.064],[6.0,0.08],[6.2,0.048],[6.65,0.008],[7.4,0.005],[8.1,0.005],[9.2,0.091],[14.0,0.008],[14.7,0.019],[15.1,0.027],[15.7,0.095],[15.9,0.075],[16.2,0.053],[16.6,0.085],[16.9,0.08],[17.1,0.04],[17.6,0.008],[18.3,0.041],[19.0,0.003],[39.0,0.032],[39.9,0.011],[40.6,0.008],[41.3,0.011],[42.8,0.011],[43.0,0.023],[43.3,0.008],[45.6,0.021],[46.6,0.008],[62.7,0.069],[62.9,0.024],[63.2,0.019],[63.4,0.016]];
const sed2: Spike[] = [[7.8,0.0012],[8.5,0.0024],[9.5,0.005],[14.5,0.005],[15.0,0.007],[15.4,0.01],[16.2,0.014],[16.6,0.019],[17.0,0.022],[17.2,0.037],[17.8,0.005],[18.5,0.0024],[19.7,0.004],[25.4,0.005],[26.4,0.007],[26.9,0.006],[27.4,0.005],[28.5,0.034],[28.8,0.047],[41.6,0.0024],[43.0,0.0024],[49.4,0.005],[50.3,0.007],[51.3,0.012],[52.0,0.005],[52.9,0.022],[53.2,0.01],[54.2,0.019],[54.5,0.007],[55.3,0.006],[56.1,0.007],[56.5,0.005],[63.4,0.008],[63.9,0.0024]];
const sed3: Spike[] = [[3.1,0.0024],[4.3,0.052],[4.5,0.046],[4.75,0.032],[5.0,0.019],[5.5,0.007],[5.8,0.019],[6.2,0.014],[6.7,0.007],[7.4,0.0024],[22.6,0.0024],[26.4,0.01],[26.7,0.025],[27.3,0.007],[28.5,0.026],[28.8,0.103],[42.0,0.006],[44.4,0.004],[48.2,0.007],[49.4,0.005],[50.6,0.012],[51.5,0.026],[52.4,0.046],[52.7,0.026],[53.9,0.032],[54.4,0.01],[55.3,0.008],[55.8,0.01],[56.3,0.005],[62.9,0.012],[63.9,0.005]];
const sed4: Spike[] = [[2.4,0.003],[2.85,0.005],[4.3,0.043],[4.5,0.04],[4.75,0.027],[5.0,0.011],[5.7,0.019],[5.9,0.021],[6.3,0.033],[6.9,0.007],[7.6,0.003],[9.5,0.003],[15.2,0.008],[16.3,0.013],[16.9,0.011],[17.3,0.023],[18.8,0.007],[24.5,0.003],[27.3,0.003],[27.9,0.008],[28.5,0.027],[28.9,0.057],[40.1,0.004],[41.5,0.003],[43.0,0.004],[48.2,0.004],[49.9,0.005],[51.1,0.011],[53.0,0.013],[53.9,0.011],[55.1,0.005],[56.3,0.005],[63.7,0.005],[64.2,0.003]];
const sed5: Spike[] = [[3.1,0.003],[4.3,0.024],[4.6,0.025],[5.0,0.013],[5.9,0.012],[6.3,0.021],[6.9,0.005],[14.7,0.003],[15.4,0.003],[17.3,0.024],[18.8,0.005],[25.4,0.003],[27.8,0.008],[28.7,0.016],[29.0,0.069],[40.1,0.004],[42.3,0.008],[43.2,0.007],[43.7,0.008],[48.2,0.003],[51.5,0.019],[52.1,0.016],[52.7,0.008],[53.9,0.035],[54.6,0.011],[55.6,0.009],[56.5,0.013],[63.9,0.013],[64.4,0.016]];
const sed6: Spike[] = [[4.4,0.009],[5.2,0.004],[6.2,0.008],[16.2,0.004],[17.1,0.012],[17.3,0.032],[18.8,0.004],[26.6,0.006],[27.8,0.01],[28.7,0.036],[29.0,0.07],[39.4,0.004],[42.3,0.004],[50.7,0.004],[52.3,0.006],[53.0,0.008],[53.9,0.014],[54.7,0.006],[55.6,0.008],[56.3,0.01],[64.1,0.004]];
const sed7: Spike[] = [[2.85,0.004],[4.4,0.046],[4.65,0.042],[5.0,0.02],[5.3,0.03],[5.7,0.062],[6.1,0.063],[6.4,0.04],[6.8,0.019],[8.3,0.004],[9.3,0.003],[10.7,0.004],[16.2,0.01],[16.6,0.007],[17.3,0.034],[18.8,0.006],[39.7,0.007],[42.0,0.004],[43.5,0.004],[45.1,0.002],[48.2,0.003],[50.4,0.003],[51.5,0.007],[52.5,0.037],[53.0,0.017],[53.7,0.012],[54.2,0.006],[55.4,0.008],[56.3,0.01],[63.9,0.006]];
const sed8: Spike[] = [[7.75,0.003],[8.5,0.0013],[11.8,0.0013],[13.7,0.015],[14.2,0.013],[14.7,0.017],[15.4,0.008],[16.5,0.013],[16.8,0.032],[17.7,0.005],[18.3,0.009],[19.5,0.003],[23.8,0.003],[25.4,0.003],[26.2,0.015],[27.4,0.027],[28.1,0.019],[28.3,0.063],[28.6,0.107],[39.1,0.004],[40.8,0.005],[42.7,0.005],[47.2,0.005],[50.0,0.005],[50.6,0.011],[51.3,0.019],[52.0,0.019],[53.0,0.013],[53.9,0.011],[55.6,0.011],[55.8,0.021],[63.3,0.036],[63.5,0.013],[64.0,0.005]];
const sed9: Spike[] = [[2.4,0.01],[3.4,0.005],[4.3,0.026],[4.55,0.02],[5.0,0.01],[5.8,0.022],[5.96,0.025],[6.4,0.01],[7.4,0.005],[22.5,0.003],[25.7,0.005],[26.4,0.008],[27.1,0.01],[27.7,0.005],[28.3,0.02],[28.4,0.095],[38.6,0.002],[44.2,0.002],[50.3,0.005],[51.0,0.01],[51.7,0.03],[52.2,0.01],[52.9,0.006],[53.8,0.005],[54.5,0.01],[55.2,0.004],[63.0,0.006]];
const sed10: Spike[] = [[2.4,0.004],[4.1,0.01],[4.35,0.008],[4.7,0.004],[5.5,0.003],[6.0,0.004],[14.7,0.002],[15.9,0.004],[16.3,0.01],[16.8,0.012],[18.2,0.002],[24.8,0.003],[25.5,0.002],[26.2,0.002],[27.1,0.01],[27.6,0.003],[28.0,0.012],[28.2,0.055],[38.6,0.002],[40.5,0.001],[50.8,0.004],[51.8,0.003],[52.5,0.006],[53.0,0.008],[54.4,0.004],[54.9,0.008],[62.8,0.005],[63.5,0.002]];
const sed11: Spike[] = [[4.1,0.013],[4.35,0.014],[4.8,0.007],[5.3,0.004],[5.8,0.01],[6.0,0.009],[14.9,0.002],[15.9,0.007],[16.3,0.005],[16.8,0.015],[17.0,0.021],[17.3,0.01],[18.2,0.003],[40.0,0.002],[42.0,0.002],[50.1,0.01],[51.0,0.003],[52.0,0.005],[53.0,0.008],[53.9,0.003],[54.6,0.005],[55.1,0.01],[55.6,0.016],[62.8,0.01],[63.3,0.005]];
const sed12: Spike[] = [[4.2,0.017],[4.5,0.013],[5.6,0.005],[6.1,0.006],[14.8,0.002],[15.9,0.004],[16.5,0.013],[16.9,0.012],[18.1,0.002],[26.3,0.014],[28.2,0.02],[28.4,0.067],[38.5,0.001],[50.2,0.005],[51.2,0.003],[52.1,0.013],[52.8,0.017],[53.5,0.003],[54.5,0.004],[55.2,0.009],[62.7,0.005],[63.2,0.002]];
const sed13: Spike[] = [[4.1,0.024],[4.3,0.016],[4.6,0.008],[5.3,0.01],[5.9,0.012],[6.2,0.006],[6.95,0.004],[9.3,0.002],[16.6,0.012],[16.8,0.01],[17.75,0.003],[24.3,0.004],[25.3,0.006],[26.2,0.008],[27.6,0.008],[28.3,0.022],[38.9,0.003],[41.5,0.006],[42.2,0.004],[50.6,0.01],[51.1,0.005],[52.0,0.012],[52.5,0.007],[53.4,0.01],[54.6,0.008],[55.1,0.012],[55.8,0.006],[62.6,0.01],[63.1,0.005]];
const sed14: Spike[] = [[7.7,0.001],[8.5,0.002],[9.5,0.001],[14.7,0.002],[15.6,0.01],[16.1,0.007],[16.6,0.018],[16.9,0.02],[18.2,0.006],[18.5,0.003],[21.5,0.002],[25.3,0.002],[28.3,0.013],[38.4,0.002],[41.2,0.004],[42.6,0.006],[48.3,0.002],[56.0,0.002],[61.0,0.002],[62.6,0.022],[63.0,0.006],[63.5,0.005]];
const sed15: Spike[] = [[9.15,0.003],[13.6,0.002],[14.8,0.005],[15.3,0.003],[15.7,0.012],[16.0,0.006],[16.7,0.06],[16.9,0.035],[17.4,0.01],[18.2,0.007],[18.5,0.004],[22.8,0.002],[24.9,0.002],[26.1,0.011],[26.5,0.012],[27.0,0.006],[27.2,0.036],[27.5,0.02],[27.9,0.025],[28.3,0.08],[38.7,0.014],[40.6,0.009],[41.3,0.014],[42.3,0.006],[43.7,0.003],[45.5,0.002],[48.6,0.01],[55.9,0.004],[62.7,0.015],[63.2,0.005],[63.6,0.004]];

// top of the (hidden on the right column) left scale of each catchment
const leftMax = [45, 50, 50, 45, 45, 60, 60, 45, 45, 120, 110, 120, 80, 80, 100];

const soil = [sm1, sm2, sm3, sm4, sm5, sm6, sm7, sm8, sm9, sm10, sm11, sm12, sm13, sm14, sm15];
const sheep = [sheep1, sheep2, sheep3, sheep4, sheep5, sheep6, sheep7, sheep8, sheep9, sheep10, sheep11, sheep12, sheep13, sheep14, sheep15];
const cattle = [cattle1, cattle2, cattle3, cattle4, cattle5, cattle6, cattle7, cattle8, cattle9, cattle10, cattle11, cattle12, cattle13, cattle14, cattle15];
const sediment = [sed1, sed2, sed3, sed4, sed5, sed6, sed7, sed8, sed9, sed10, sed11, sed12, sed13, sed14, sed15];
const rainWin = [rw1, rw2, rw3, rw4, rw5, rw6, rw7, rw8, rw9, rw10, rw11, rw12, rw13, rw14, rw15];

// page layout
const COLS = [
  { x0: 62, x1: 586 },
  { x0: 617, x1: 1133 },
];
const RAIN_H = 49;
const layout = [
  { col: 0, rainTop: 9, top: 76, bottom: 196, tx: 324, ty: 40 },
  { col: 0, rainTop: 219, top: 290, bottom: 412, tx: 334, ty: 257 },
  { col: 0, rainTop: 437, top: 504, bottom: 626, tx: 336, ty: 475 },
  { col: 0, rainTop: 659, top: 731, bottom: 853, tx: 334, ty: 702 },
  { col: 0, rainTop: 880, top: 950, bottom: 1072, tx: 334, ty: 922 },
  { col: 0, rainTop: 1097, top: 1162, bottom: 1284, tx: 334, ty: 1137 },
  { col: 0, rainTop: 1311, top: 1376, bottom: 1498, tx: 325, ty: 1345 },
  { col: 0, rainTop: 1529, top: 1596, bottom: 1719, tx: 335, ty: 1570 },
  { col: 1, rainTop: 14, top: 76, bottom: 199, tx: 881, ty: 53 },
  { col: 1, rainTop: 219, top: 282, bottom: 404, tx: 885, ty: 260 },
  { col: 1, rainTop: 439, top: 506, bottom: 628, tx: 877, ty: 479 },
  { col: 1, rainTop: 664, top: 731, bottom: 853, tx: 877, ty: 706 },
  { col: 1, rainTop: 883, top: 952, bottom: 1074, tx: 877, ty: 926 },
  { col: 1, rainTop: 1099, top: 1164, bottom: 1287, tx: 879, ty: 1142 },
  { col: 1, rainTop: 1309, top: 1374, bottom: 1496, tx: 882, ty: 1351 },
];

const C = {
  axis: "#a6a6a6",
  label: "#595959",
  cattle: "#262626",
  sheep: "#7f7f7f",
  rain: "#0070c0",
  rainTip: "#4d94d6",
  soil: "#000000",
  sed: "#ed7d31",
};
const SANS = "'Liberation Sans', Arial, sans-serif";
const SERIF = "'Liberation Serif', 'Times New Roman', serif";

function Catchment({ i }: { i: number }) {
  const L = layout[i];
  const col = COLS[L.col];
  const x = d3.scaleTime().domain([T0, T1]).range([col.x0, col.x1]);
  const xm = (m: number) => x(monthDate(m));
  const yR = d3.scaleLinear().domain([0, 60]).range([L.rainTop, L.rainTop + RAIN_H]);
  const yL = d3.scaleLinear().domain([0, leftMax[i]]).range([L.bottom, L.top]);
  const yS = d3.scaleLinear().domain([0, 0.12]).range([L.bottom, L.top]);
  const wins = rainWin[i];
  const inWin = (m: number) => wins.some(([a, b]) => m >= a && m <= b);
  const line = d3
    .line<Pt>()
    .defined((d) => d[1] !== null)
    .x((d) => xm(Math.min(d[0], 64.9)))
    .y((d) => yL(d[1] as number));
  const step = leftMax[i] > 50 ? 10 : 5;
  const leftTicks = d3.range(0, leftMax[i] + 0.01, step);
  const isLeft = L.col === 0;
  const showDates = i === 7 || i === 14;
  const bw = (a: number, b: number) => Math.max(1, xm(b) - xm(a));

  return (
    <g>
      {/* rainfall panel */}
      <g>
        {rainBase.map((v, k) => {
          const m0 = k / 2;
          if (!inWin(m0 + 0.25) || v <= 0) return null;
          return (
            <rect
              key={"rb" + k}
              x={xm(m0)}
              y={yR(0)}
              width={Math.max(0.5, xm(m0 + 0.5) - xm(m0) - 0.5)}
              height={yR(v) - yR(0)}
              fill={C.rain}
            />
          );
        })}
        {rainPeak.map((v, k) => {
          const mid = k / 2 + 0.25;
          if (!inWin(mid) || v <= 0) return null;
          return (
            <line
              key={"rp" + k}
              x1={xm(mid)}
              x2={xm(mid)}
              y1={yR(0)}
              y2={yR(v)}
              stroke={C.rainTip}
              strokeWidth={1}
            />
          );
        })}
        <line x1={col.x0} x2={col.x1} y1={yR(0)} y2={yR(0)} stroke={C.axis} />
        {tickMonths.map((m) => (
          <line key={"rt" + m} x1={xm(m)} x2={xm(m)} y1={yR(0)} y2={yR(0) - 3} stroke={C.axis} />
        ))}
        <line x1={col.x0} x2={col.x0} y1={yR(0)} y2={yR(60)} stroke={C.axis} />
        {isLeft &&
          rainTicks.map((t) => (
            <text key={"rl" + t} x={col.x0 - 7} y={yR(t) + 3.5} textAnchor="end" fontSize={10} fill={C.label} fontFamily={SANS}>
              {t}
            </text>
          ))}
        {isLeft && (
          <text
            transform={`translate(31,${L.rainTop + RAIN_H / 2}) rotate(-90)`}
            textAnchor="middle"
            fontSize={9}
            fill={C.label}
            fontFamily={SANS}
          >
            Rainfall (mm)
          </text>
        )}
      </g>

      {/* title */}
      <text x={L.tx} y={L.ty} textAnchor="middle" fontFamily={SERIF} fontWeight="bold" fill="#1a1a1a">
        <tspan fontSize={16.5}>Catchment </tspan>
        <tspan fontSize={21}>{i + 1}</tspan>
      </text>

      {/* stocking density */}
      {sheep[i].map(([a, b, v], k) => (
        <rect key={"sh" + k} x={xm(a)} y={yL(v)} width={bw(a, b)} height={yL(0) - yL(v)} fill={C.sheep} />
      ))}
      {cattle[i].map(([a, b, v], k) => (
        <rect key={"ca" + k} x={xm(a)} y={yL(v)} width={bw(a, b)} height={yL(0) - yL(v)} fill={C.cattle} />
      ))}

      {/* sediment yield */}
      {wins.map(([a, b], k) => (
        <line key={"sb" + k} x1={xm(a)} x2={xm(Math.min(b, 64.9))} y1={yS(0) - 0.5} y2={yS(0) - 0.5} stroke={C.sed} strokeWidth={1.3} />
      ))}
      {sediment[i].map(([m, v], k) => (
        <path
          key={"sp" + k}
          d={`M${xm(m - 0.12)},${yS(0)}L${xm(m)},${yS(v)}L${xm(m + 0.12)},${yS(0)}`}
          fill={C.sed}
          stroke={C.sed}
          strokeWidth={1}
          strokeLinejoin="round"
        />
      ))}

      {/* soil moisture */}
      <path d={line(soil[i]) ?? ""} fill="none" stroke={C.soil} strokeWidth={1.3} strokeLinejoin="round" />

      {/* axes of the main panel */}
      <line x1={col.x0} x2={col.x0} y1={L.top} y2={L.bottom} stroke={C.axis} />
      <line x1={col.x1} x2={col.x1} y1={L.top} y2={L.bottom} stroke={C.axis} />
      <line x1={col.x0} x2={col.x1} y1={L.bottom} y2={L.bottom} stroke={C.axis} />
      {tickMonths.map((m) => (
        <line key={"bt" + m} x1={xm(m)} x2={xm(m)} y1={L.bottom} y2={L.bottom + 4} stroke={C.axis} />
      ))}
      {isLeft &&
        leftTicks.map((t) => (
          <text key={"lt" + t} x={col.x0 - 7} y={yL(t) + 3.5} textAnchor="end" fontSize={10} fill={C.label} fontFamily={SANS}>
            {t}
          </text>
        ))}
      {isLeft && (
        <g fontFamily={SANS}>
          <text
            transform={`translate(15,${(L.top + L.bottom) / 2}) rotate(-90)`}
            textAnchor="middle"
            fontSize={11.5}
            fill="#1f3864"
          >
            Soil moisture (%)
          </text>
          <text
            transform={`translate(30,${(L.top + L.bottom) / 2}) rotate(-90)`}
            textAnchor="middle"
            fontSize={9}
            fill={C.label}
          >
            Stocking Density (individuals ha
            <tspan dy={-3.5} fontSize={6.5}>-1</tspan>
            <tspan dy={3.5}>)</tspan>
          </text>
        </g>
      )}
      {!isLeft &&
        sedTicks.map((t) => (
          <text key={"st" + t} x={col.x1 + 6} y={yS(t) + 3.5} fontSize={10} fill={C.label} fontFamily={SANS}>
            {t}
          </text>
        ))}
      {!isLeft && (
        <text
          transform={`translate(1170,${(L.top + L.bottom) / 2}) rotate(-90)`}
          textAnchor="middle"
          fontSize={9.5}
          fill={C.label}
          fontFamily={SANS}
        >
          Daily Sediment yield (t ha
          <tspan dy={-3.5} fontSize={6.5}>-1</tspan>
          <tspan dy={3.5}>)</tspan>
        </text>
      )}
      {showDates &&
        tickMonths.map((m) => {
          const d = d3.timeMonth.offset(T0, m);
          return (
            <text
              key={"dl" + m}
              transform={`translate(${x(d) + 3.5},${L.bottom + 5}) rotate(-90)`}
              textAnchor="end"
              fontSize={10}
              fill={C.label}
              fontFamily={SANS}
            >
              {fmtDate(d)}
            </text>
          );
        })}
    </g>
  );
}

const legendItems = [
  { label: "Cattle stocking density", kind: "rect", color: C.cattle },
  { label: "Sheep stocking density", kind: "rect", color: C.sheep },
  { label: "Rainfall", kind: "line", color: C.rain },
  { label: "Soil moisture", kind: "line", color: C.soil },
  { label: "Daily sediment yield", kind: "line", color: C.sed },
];

export default function App() {
  return (
    <svg
      width={1184}
      height={1775}
      viewBox="0 0 1184 1775"
      style={{ position: "absolute", left: 0, top: 0, background: "#fff" }}
    >
      <rect width={1184} height={1775} fill="#fff" />
      {layout.map((_, i) => (
        <Catchment key={i} i={i} />
      ))}
      <g fontFamily={SANS}>
        {legendItems.map((it, k) => {
          const y = 1588 + k * 24;
          return (
            <g key={it.label}>
              {it.kind === "rect" ? (
                <rect x={634} y={y - 7} width={27} height={13} fill={it.color} />
              ) : (
                <line x1={634} x2={661} y1={y} y2={y} stroke={it.color} strokeWidth={2.2} />
              )}
              <text x={670} y={y + 6} fontSize={17.5} fill="#1a1a1a">
                {it.label}
              </text>
            </g>
          );
        })}
      </g>
    </svg>
  );
}
